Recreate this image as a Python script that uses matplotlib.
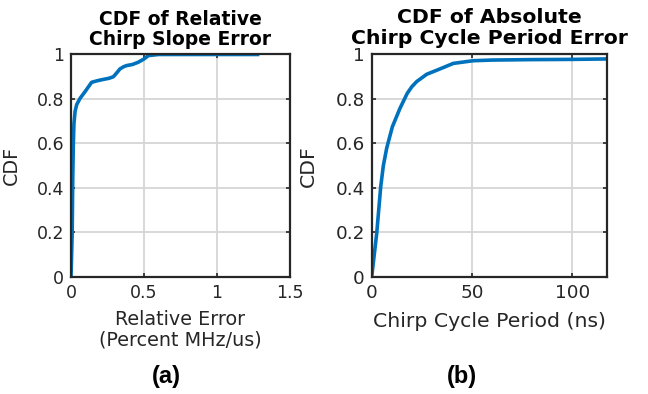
import matplotlib
matplotlib.use('Agg')
import matplotlib.pyplot as plt

# CDF of relative chirp slope error (percent MHz/us)
slope_err = [0, 0.008, 0.012, 0.016, 0.02, 0.028, 0.039, 0.062, 0.096, 0.141,
             0.18, 0.221, 0.26, 0.29, 0.31, 0.335, 0.36, 0.38, 0.42, 0.46,
             0.5, 0.53, 0.6, 0.8, 1.0, 1.29]
slope_cdf = [0, 0.2, 0.45, 0.6, 0.69, 0.745, 0.775, 0.803, 0.833, 0.875,
             0.882, 0.888, 0.893, 0.9, 0.915, 0.935, 0.945, 0.95, 0.955, 0.965,
             0.98, 0.995, 1.0, 1.0, 1.0, 1.0]

# CDF of absolute chirp cycle period error (ns)
period_err = [0, 2.5, 4.5, 5.8, 7.5, 10.3, 14.1, 17.7, 20, 22.4, 27.4, 34,
              40.7, 50.6, 60, 80, 100, 117.3]
period_cdf = [0, 0.196, 0.406, 0.5, 0.58, 0.675, 0.758, 0.825, 0.855, 0.878,
              0.911, 0.935, 0.96, 0.972, 0.975, 0.977, 0.978, 0.98]

yticks = [0, 0.2, 0.4, 0.6, 0.8, 1]
ytick_labels = ['0', '0.2', '0.4', '0.6', '0.8', '1']

blue = '#0072BD'
dark = '#262626'

fig = plt.figure(figsize=(6.48, 3.94), dpi=100)
ax1 = fig.add_axes([0.1096, 0.2970, 0.338, 0.5647])
ax2 = fig.add_axes([0.5736, 0.2970, 0.3631, 0.5647])


def style(ax, tsize, lsize):
    ax.set_ylim(0, 1)
    ax.set_yticks(yticks)
    ax.set_yticklabels(ytick_labels)
    ax.grid(True, color='#d6d6d6', linewidth=1.3)
    ax.set_axisbelow(True)
    ax.tick_params(direction='in', length=3, width=1.2, colors=dark,
                   labelsize=tsize, top=True, right=True, pad=5)
    for s in ax.spines.values():
        s.set_color(dark)
        s.set_linewidth(1.6)
    ax.set_ylabel('CDF', fontsize=lsize, color=dark)
    ax.yaxis.set_label_coords(-0.228, 0.5)


ax1.plot(slope_err, slope_cdf, color=blue, linewidth=2.6, solid_capstyle='butt')
ax1.set_xlim(0, 1.5)
ax1.set_xticks([0, 0.5, 1, 1.5])
ax1.set_xticklabels(['0', '0.5', '1', '1.5'])
style(ax1, 12.5, 13.8)
ax1.set_xlabel('Relative Error\n(Percent MHz/us)', fontsize=13.8, color=dark,
               labelpad=6, linespacing=1.05)
ax1.set_title('CDF of Relative\nChirp Slope Error', fontsize=13.5,
              fontweight='bold', pad=6.5, linespacing=1.1)

ax2.plot(period_err, period_cdf, color=blue, linewidth=2.6, solid_capstyle='butt')
ax2.set_xlim(0, 117.3)
ax2.set_xticks([0, 50, 100])
style(ax2, 13.2, 14.7)
ax2.set_xlabel('Chirp Cycle Period (ns)', fontsize=14.7, color=dark, labelpad=7)
ax2.set_title('CDF of Absolute\nChirp Cycle Period Error', fontsize=14.7,
              fontweight='bold', pad=7.5, linespacing=1.12)

fig.text(166 / 648, 1 - 377 / 394, '(a)', fontsize=17, fontweight='bold',
         family='Liberation Sans', ha='center', va='center')
fig.text(462 / 648, 1 - 377 / 394, '(b)', fontsize=17, fontweight='bold',
         family='Liberation Sans', ha='center', va='center')

fig.savefig('out.png', dpi=100)
